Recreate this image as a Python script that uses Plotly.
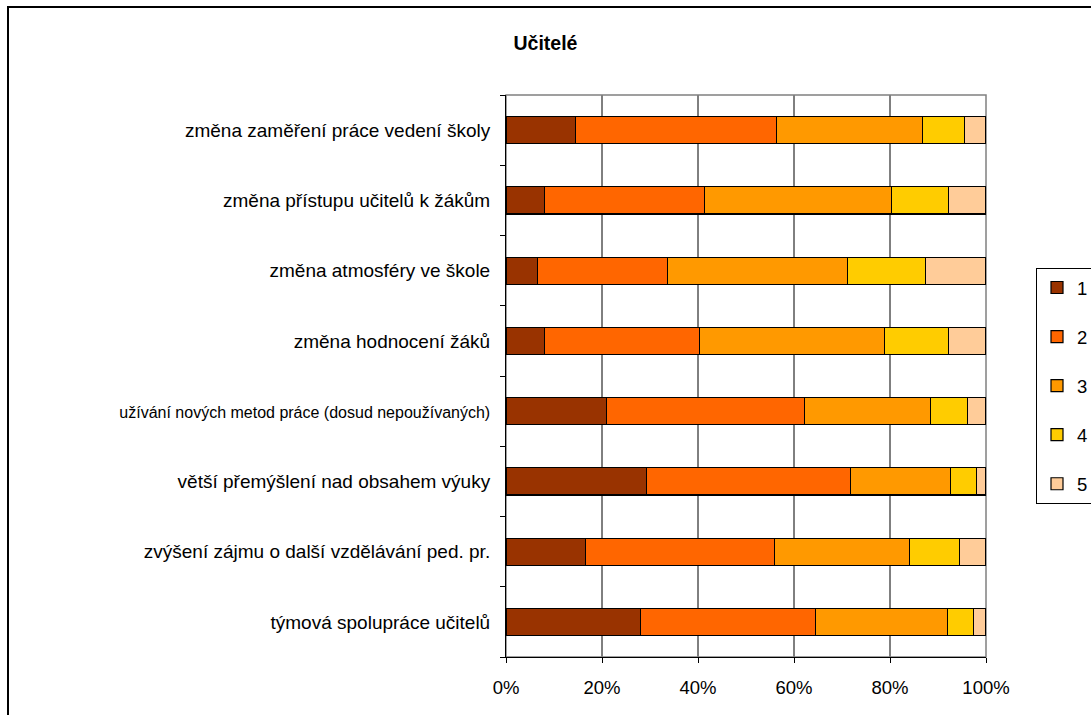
import plotly.graph_objects as go

# Survey items, listed from top to bottom of the chart
categories = [
    "změna zaměření práce vedení školy",
    "změna přístupu učitelů k žákům",
    "změna atmosféry ve škole",
    "změna hodnocení žáků",
    "užívání nových metod práce (dosud nepoužívaných)",
    "větší přemýšlení nad obsahem výuky",
    "zvýšení zájmu o další vzdělávání ped. pr.",
    "týmová spolupráce učitelů",
]

# Share of answers (%) for each rating 1..5
rating_1 = [14.4, 8.1, 6.6, 8.1, 21.0, 29.2, 16.5, 28.1]
rating_2 = [41.9, 33.3, 27.1, 32.2, 41.2, 42.6, 39.4, 36.3]
rating_3 = [30.4, 38.9, 37.4, 38.5, 26.3, 20.8, 28.2, 27.5]
rating_4 = [8.9, 11.9, 16.3, 13.4, 7.7, 5.5, 10.4, 5.5]
rating_5 = [4.4, 7.8, 12.6, 7.8, 3.8, 1.9, 5.5, 2.6]

series_names = ["1", "2", "3", "4", "5"]
series_values = [rating_1, rating_2, rating_3, rating_4, rating_5]
series_colors = ["#993300", "#FF6600", "#FF9900", "#FFCC00", "#FFCC99"]

x_ticks = [0, 20, 40, 60, 80, 100]
x_tick_labels = ["0%", "20%", "40%", "60%", "80%", "100%"]

FONT = "Liberation Sans, Arial, sans-serif"

fig = go.Figure()
for name, vals, color in zip(series_names, series_values, series_colors):
    fig.add_trace(go.Bar(
        y=categories,
        x=vals,
        name=name,
        orientation="h",
        legendgroup=name,
        marker=dict(color=color, line=dict(color="black", width=1.2)),
    ))

# plot area geometry in pixels
W, H = 1091, 715
L, R, T, B = 506, 105, 95, 58
pw, ph = W - L - R, H - T - B


def px_x(p):
    return (p - L) / pw


def px_y(p):
    return (H - B - p) / ph


# the longest item label is set slightly smaller so it fits beside the axis
y_tick_text = [
    f'<span style="font-size:16px">{c}</span>' if len(c) > 45 else c
    for c in categories
]

shapes = []
# vertical gridlines
for v in x_ticks[1:-1]:
    shapes.append(dict(type="line", xref="x", yref="paper", x0=v, x1=v, y0=0, y1=1,
                       line=dict(color="black", width=1), layer="below"))
# grey top/right plot frame
shapes.append(dict(type="rect", xref="paper", yref="paper", x0=0, x1=1, y0=0, y1=1,
                   line=dict(color="#808080", width=1.5), layer="below"))
# outer chart border
shapes.append(dict(type="rect", xref="paper", yref="paper",
                   x0=px_x(8), x1=px_x(1120), y0=px_y(740), y1=px_y(7),
                   line=dict(color="black", width=2), layer="below"))

fig.update_layout(
    width=W, height=H,
    margin=dict(l=L, r=R, t=T, b=B, autoexpand=False),
    paper_bgcolor="white",
    plot_bgcolor="white",
    barmode="stack",
    bargap=0.615,
    font=dict(family=FONT, color="black", size=18),
    title=dict(text="<b>Učitelé</b>", x=0.5, xref="container", xanchor="center",
               y=1 - 43 / H, yref="container", yanchor="middle",
               font=dict(family=FONT, size=19.5, color="black")),
    xaxis=dict(
        range=[0, 100],
        tickvals=x_ticks,
        ticktext=x_tick_labels,
        showgrid=False,
        zeroline=False,
        showline=True,
        linecolor="black",
        linewidth=1,
        ticks="outside",
        ticklen=5,
        tickcolor="black",
        ticklabelstandoff=9,
        tickfont=dict(size=18.5),
    ),
    yaxis=dict(
        categoryorder="array",
        categoryarray=categories,
        tickmode="array",
        tickvals=categories,
        ticktext=y_tick_text,
        autorange="reversed",
        showgrid=False,
        zeroline=False,
        showline=True,
        linecolor="black",
        linewidth=1,
        ticks="outside",
        tickson="boundaries",
        ticklen=5,
        tickcolor="black",
        ticklabelstandoff=11,
        tickfont=dict(size=19),
    ),
    legend=dict(
        x=px_x(1036), xanchor="left",
        y=px_y(268), yanchor="top",
        traceorder="grouped",
        tracegroupgap=22,
        bordercolor="black",
        borderwidth=1,
        bgcolor="white",
        font=dict(size=18.5),
    ),
    shapes=shapes,
    showlegend=True,
)

fig.write_html("out.html")
